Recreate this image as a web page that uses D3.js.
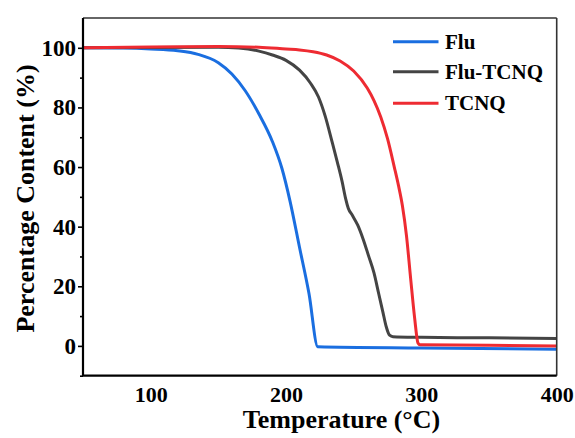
<!DOCTYPE html>
<html>
<head>
<meta charset="utf-8">
<script src="https://cdn.jsdelivr.net/npm/d3@7"></script>
<style>
  html, body { margin: 0; padding: 0; background: #fff; }
  svg { display: block; }
  text { font-family: "Liberation Serif", "Times New Roman", serif; font-weight: bold; fill: #000; }
</style>
</head>
<body>
<svg id="chart" width="575" height="438"></svg>
<script>
// Thermogravimetric curves: temperature (°C) vs remaining mass (%)
const fluTemp  = [50, 80, 100, 120, 135, 150, 160, 170, 180, 190, 197, 203, 210, 217, 223.5, 300, 400];
const fluMass  = [100, 99.9, 99.6, 99.0, 97.8, 95, 91.2, 85.5, 77.8, 68.5, 59.5, 48.5, 33, 17.5, -0.3, -0.7, -1.1];

const fluTcnqTemp = [50, 100, 150, 165, 180, 190, 200, 210, 218, 224, 229, 234, 238, 241.5, 244, 246, 249, 253, 257, 261, 265, 268.5, 271.5, 274, 276.5, 279, 300, 350, 400];
const fluTcnqMass = [100, 100.1, 100.2, 99.9, 98.9, 97.6, 95.8, 92.5, 88.2, 83.5, 77, 68.5, 61.5, 55, 49.5, 46.2, 43.8, 40.5, 35.8, 30.2, 24.5, 17.5, 11.5, 6.5, 3.6, 3.1, 2.9, 2.7, 2.5];

const tcnqTemp = [50, 100, 150, 180, 200, 210, 220, 230, 240, 250, 260, 265, 270, 275, 280, 283, 286, 289, 292, 295, 297.5, 299, 350, 400];
const tcnqMass = [100, 100.3, 100.4, 100.2, 99.6, 99.3, 98.7, 97.6, 95.6, 92.2, 86.5, 82.3, 76.8, 69.5, 60, 54, 47, 37, 23, 9.5, 1.0, 0.4, 0.2, 0];

const seriesNames  = ["Flu", "Flu-TCNQ", "TCNQ"];
const seriesColors = ["#1a6ee0", "#444444", "#ee2b32"];

const xTicks = [100, 200, 300, 400];
const yTicks = [0, 20, 40, 60, 80, 100];
const yMinorTicks = [-10, 10, 30, 50, 70, 90];

const series = [
  { name: seriesNames[0], color: seriesColors[0], pts: fluTemp.map((t, i) => [t, fluMass[i]]) },
  { name: seriesNames[1], color: seriesColors[1], pts: fluTcnqTemp.map((t, i) => [t, fluTcnqMass[i]]) },
  { name: seriesNames[2], color: seriesColors[2], pts: tcnqTemp.map((t, i) => [t, tcnqMass[i]]) }
];

const svg = d3.select("#chart");
const plotLeft = 83, plotRight = 556.7, plotTop = 18, plotBottom = 375.7;

const x = d3.scaleLinear().domain([50, 400]).range([plotLeft, plotRight]);
const y = d3.scaleLinear().domain([-10, 110]).range([plotBottom, plotTop]);

// Curves
const line = d3.line()
  .x(d => x(d[0]))
  .y(d => y(d[1]))
  .curve(d3.curveMonotoneX);

const plot = svg.append("g");
series.forEach(s => {
  plot.append("path")
    .datum(s.pts)
    .attr("fill", "none")
    .attr("stroke", s.color)
    .attr("stroke-width", 3)
    .attr("stroke-linejoin", "round")
    .attr("d", line);
});

// Frame: top and right edges
svg.append("line").attr("x1", plotLeft).attr("x2", plotRight).attr("y1", plotTop).attr("y2", plotTop)
  .attr("stroke", "#333").attr("stroke-width", 1.6);
svg.append("line").attr("x1", plotRight).attr("x2", plotRight).attr("y1", plotTop).attr("y2", plotBottom)
  .attr("stroke", "#333").attr("stroke-width", 1.6);

// Left axis (major + minor ticks)
const yAxis = svg.append("g").attr("transform", `translate(${plotLeft},0)`)
  .call(d3.axisLeft(y).tickValues(yTicks).tickSize(5).tickPadding(2).tickFormat(d3.format("d")));
yAxis.select(".domain").remove();
yAxis.selectAll(".tick line").attr("stroke", "#000").attr("stroke-width", 1.6);
yAxis.selectAll(".tick text").style("font-size", "23px").attr("fill", "#000");

const yMinor = svg.append("g").attr("transform", `translate(${plotLeft},0)`)
  .call(d3.axisLeft(y).tickValues(yMinorTicks).tickSize(3).tickFormat(""));
yMinor.select(".domain").remove();
yMinor.selectAll(".tick line").attr("stroke", "#000").attr("stroke-width", 1.6);

svg.append("line").attr("x1", plotLeft).attr("x2", plotLeft).attr("y1", plotTop).attr("y2", plotBottom)
  .attr("stroke", "#000").attr("stroke-width", 2.2);

// Bottom axis (labels only)
const xAxis = svg.append("g").attr("transform", `translate(0,${plotBottom})`)
  .call(d3.axisBottom(x).tickValues(xTicks).tickSize(0).tickPadding(11).tickFormat(d3.format("d")));
xAxis.select(".domain").remove();
xAxis.selectAll(".tick text").style("font-size", "22px").attr("fill", "#000");
svg.append("line").attr("x1", plotLeft - 1).attr("x2", plotRight).attr("y1", plotBottom).attr("y2", plotBottom)
  .attr("stroke", "#000").attr("stroke-width", 2.2);

// Axis titles
svg.append("text")
  .attr("x", 341.5).attr("y", 428)
  .attr("text-anchor", "middle")
  .style("font-size", "26px")
  .text("Temperature (°C)");

svg.append("text")
  .attr("transform", "translate(33.5,198.5) rotate(-90)")
  .attr("text-anchor", "middle")
  .style("font-size", "26px")
  .text("Percentage Content (%)");

// Legend
const legend = svg.append("g");
series.forEach((s, i) => {
  const ly = [41.7, 71.7, 103.3][i];
  legend.append("line")
    .attr("x1", 393).attr("x2", 438.5).attr("y1", ly).attr("y2", ly)
    .attr("stroke", s.color).attr("stroke-width", 3);
  legend.append("text")
    .attr("x", 445).attr("y", ly + 7)
    .style("font-size", "21px")
    .text(s.name);
});
</script>
</body>
</html>
